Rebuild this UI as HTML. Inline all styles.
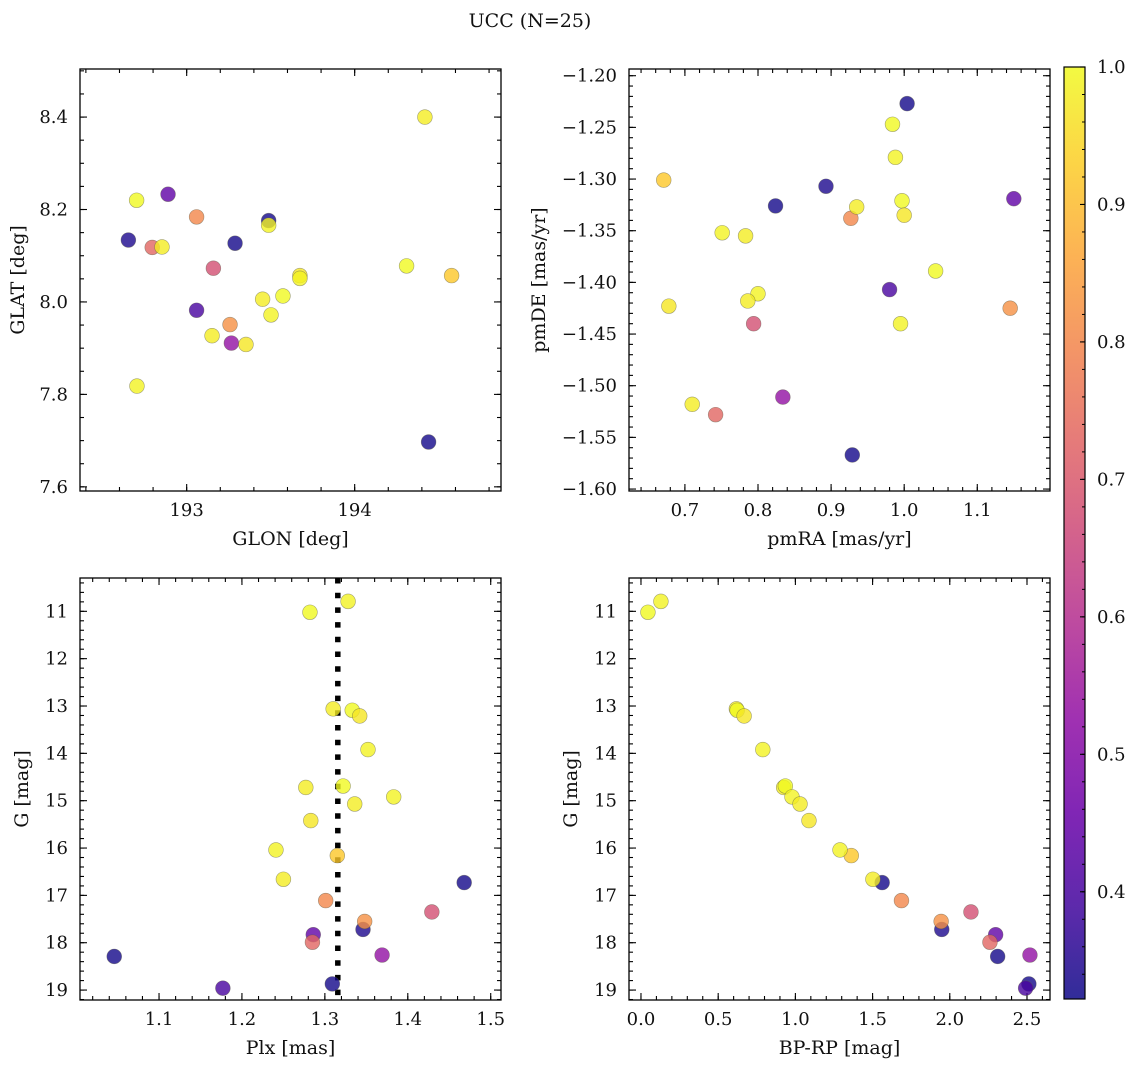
<!DOCTYPE html>
<html><head><meta charset="utf-8"><style>
html,body{margin:0;padding:0;background:#fff;}
svg text{font-family:"DejaVu Serif","Liberation Serif",serif;fill:#111;}
</style></head><body>
<svg id="fig" width="1136" height="1067" viewBox="0 0 1136 1067" xmlns="http://www.w3.org/2000/svg">
<defs><linearGradient id="plasmaGrad" x1="0" y1="1" x2="0" y2="0"></linearGradient></defs>
<text x="530" y="27" font-size="19" text-anchor="middle">UCC (N=25)</text>
</svg>
<script>
// star data (25 members)
const glon = [193.488,192.653,193.288,194.440,193.059,192.889,193.266,193.159,192.795,193.059,193.258,194.577,192.702,193.488,192.853,194.309,193.674,193.674,193.452,193.573,193.502,193.151,193.353,192.704,194.418];
const glat = [8.176,8.134,8.127,7.697,7.982,8.233,7.911,8.073,8.118,8.184,7.951,8.057,8.220,8.166,8.119,8.078,8.057,8.051,8.006,8.013,7.972,7.927,7.908,7.818,8.400];
const pmra = [1.004,0.893,0.824,0.929,0.980,1.150,0.834,0.794,0.742,0.927,1.145,0.671,0.984,0.988,0.935,0.997,1.000,0.751,0.783,1.043,0.800,0.786,0.678,0.995,0.710];
const pmde = [-1.227,-1.307,-1.326,-1.567,-1.407,-1.319,-1.511,-1.440,-1.528,-1.338,-1.425,-1.301,-1.247,-1.279,-1.327,-1.321,-1.335,-1.352,-1.355,-1.389,-1.411,-1.418,-1.423,-1.440,-1.518];
const plx = [1.468,1.346,1.046,1.309,1.177,1.286,1.369,1.429,1.285,1.301,1.348,1.315,1.282,1.328,1.310,1.333,1.342,1.352,1.277,1.322,1.383,1.336,1.283,1.241,1.250];
const gmag = [16.73,17.72,18.29,18.87,18.96,17.83,18.26,17.35,17.99,17.11,17.55,16.16,11.02,10.79,13.06,13.09,13.21,13.92,14.72,14.69,14.92,15.07,15.42,16.04,16.66];
const bprp = [1.562,1.948,2.310,2.512,2.491,2.297,2.519,2.137,2.260,1.687,1.944,1.362,0.045,0.129,0.618,0.623,0.668,0.789,0.924,0.935,0.978,1.030,1.088,1.289,1.502];
const prob = [0.33,0.34,0.33,0.33,0.40,0.44,0.53,0.68,0.73,0.80,0.82,0.92,1.0,0.99,0.98,1.0,0.97,0.99,0.98,1.0,0.99,0.98,0.97,0.99,0.98];
const plxMean = [1.3156];
const cbarTicks = [0.4,0.5,0.6,0.7,0.8,0.9,1.0];

const NS='http://www.w3.org/2000/svg';
const svg=document.getElementById('fig');
function mk(tag,attrs,parent){const e=document.createElementNS(NS,tag);for(const k in attrs)e.setAttribute(k,attrs[k]);(parent||svg).appendChild(e);return e;}
const PL=[[0,[13,8,135]],[0.1,[65,4,157]],[0.2,[106,0,168]],[0.3,[143,13,164]],[0.4,[177,42,144]],[0.5,[204,71,120]],[0.6,[225,100,98]],[0.7,[242,132,75]],[0.8,[252,166,54]],[0.9,[252,206,37]],[1,[240,249,33]]];
function plasma(t){t=Math.max(0,Math.min(1,t));for(let i=1;i<PL.length;i++){if(t<=PL[i][0]){const a=PL[i-1],b=PL[i];const f=(t-a[0])/(b[0]-a[0]);const c=a[1].map((v,j)=>Math.round(v+(b[1][j]-v)*f));return 'rgb('+c.join(',')+')';}}return 'rgb(240,249,33)';}
const VMIN=0.322,VMAX=1.0;
function cmap(v){return plasma((v-VMIN)/(VMAX-VMIN));}

function panel(o){
  const g=mk('g',{});
  
  
  const sx=v=>o.x0+(v-o.xmin)/(o.xmax-o.xmin)*o.w;
  const sy=o.inv?(v=>o.y0+(v-o.ymin)/(o.ymax-o.ymin)*o.h):(v=>o.y0+o.h-(v-o.ymin)/(o.ymax-o.ymin)*o.h);
  const eps=1e-9;
  function ticksX(step,len,labels){
    const s=Math.ceil(o.xmin/step-eps);
    for(let k=s;k*step<=o.xmax+eps;k++){const v=k*step;const X=sx(v);
      mk('line',{x1:X,y1:o.y0+o.h,x2:X,y2:o.y0+o.h-len,stroke:'#000','stroke-width':1.1},g);
      mk('line',{x1:X,y1:o.y0,x2:X,y2:o.y0+len,stroke:'#000','stroke-width':1.1},g);
      if(labels){const t=mk('text',{x:X,y:o.y0+o.h+25,'font-size':18,'text-anchor':'middle'},g);t.textContent=v.toFixed(o.xdec);
        
        }
    }
  }
  function ticksY(step,len,labels){
    const s=Math.ceil(o.ymin/step-eps);
    for(let k=s;k*step<=o.ymax+eps;k++){const v=k*step;const Y=sy(v);
      mk('line',{x1:o.x0,y1:Y,x2:o.x0+len,y2:Y,stroke:'#000','stroke-width':1.1},g);
      mk('line',{x1:o.x0+o.w,y1:Y,x2:o.x0+o.w-len,y2:Y,stroke:'#000','stroke-width':1.1},g);
      if(labels){let s2=v.toFixed(o.ydec);if(s2.startsWith('-'))s2='\u2212'+s2.slice(1);
        const t=mk('text',{x:o.x0-12,y:Y+6,'font-size':18,'text-anchor':'end'},g);t.textContent=s2;
        
        }
    }
  }
  ticksX(o.xminor,4,false);ticksX(o.xmajor,7,true);
  ticksY(o.yminor,4,false);ticksY(o.ymajor,7,true);
  if(o.vline){o.vline.forEach(v=>{const l=mk('line',{x1:sx(v),y1:o.y0,x2:sx(v),y2:o.y0+o.h,stroke:'#000','stroke-width':5.5,'stroke-dasharray':'5.5 9.2'},g);
    
    });}
  for(let i=0;i<o.xs.length;i++){
    const c=mk('circle',{cx:sx(o.xs[i]),cy:sy(o.ys[i]),r:7.4,fill:cmap(prob[i]),'fill-opacity':0.8,stroke:'rgba(90,90,70,0.55)','stroke-width':0.6},g);
    
    
  }
  const fr=mk('rect',{x:o.x0,y:o.y0,width:o.w,height:o.h,fill:'none',stroke:'#000','stroke-width':1.3},g);
  
  
  const xl=mk('text',{x:o.x0+o.w/2,y:o.y0+o.h+54,'font-size':19,'text-anchor':'middle'},g);xl.textContent=o.xlabel;
  
  
  const yx=o.ylx, yc=o.y0+o.h/2;
  const yl=mk('text',{x:yx,y:yc,'font-size':19,'text-anchor':'middle',transform:'rotate(-90 '+yx+' '+yc+')'},g);yl.textContent=o.ylabel;
  
  
}

panel({name:'glon-glat-panel',x0:80,y0:69,w:421,h:422,xmin:192.365,xmax:194.871,ymin:7.591,ymax:8.504,xmajor:1,xminor:0.2,ymajor:0.2,yminor:0.05,xdec:0,ydec:1,xs:glon,ys:glat,xlabel:'GLON [deg]',ylabel:'GLAT [deg]',ylx:24});
panel({name:'pm-panel',x0:629,y0:69,w:421,h:422,xmin:0.6235,xmax:1.1995,ymin:-1.6019,ymax:-1.1935,xmajor:0.1,xminor:0.02,ymajor:0.05,yminor:0.01,xdec:1,ydec:2,xs:pmra,ys:pmde,xlabel:'pmRA [mas/yr]',ylabel:'pmDE [mas/yr]',ylx:545});
panel({name:'plx-g-panel',x0:80,y0:578,w:421,h:422,xmin:1.0047,xmax:1.5124,ymin:10.296,ymax:19.21,inv:true,xmajor:0.1,xminor:0.02,ymajor:1,yminor:0.2,xdec:1,ydec:0,xs:plx,ys:gmag,xlabel:'Plx [mas]',ylabel:'G [mag]',ylx:28,vline:plxMean});
panel({name:'cmd-panel',x0:629,y0:578,w:421,h:422,xmin:-0.0776,xmax:2.649,ymin:10.296,ymax:19.21,inv:true,xmajor:0.5,xminor:0.1,ymajor:1,yminor:0.2,xdec:1,ydec:0,xs:bprp,ys:gmag,xlabel:'BP-RP [mag]',ylabel:'G [mag]',ylx:577});

// colorbar
const grad=document.getElementById('plasmaGrad');
for(let i=0;i<=20;i++){mk('stop',{offset:(i/20),'stop-color':plasma(i/20)},grad);}
const cb=mk('g',{});


const cx0=1064,cy0=67,cw=21,ch=932;
mk('rect',{x:cx0,y:cy0,width:cw,height:ch,fill:'url(#plasmaGrad)','fill-opacity':0.85,stroke:'#000','stroke-width':1.2},cb);
const cby=v=>cy0+ch-(v-VMIN)/(VMAX-VMIN)*ch;
for(let k=17;k<=50;k++){const v=k*0.02;if(v<VMIN)continue;mk('line',{x1:cx0+cw,y1:cby(v),x2:cx0+cw-3,y2:cby(v),stroke:'#000','stroke-width':1},cb);}
cbarTicks.forEach(v=>{const Y=cby(v);mk('line',{x1:cx0+cw,y1:Y,x2:cx0+cw-5,y2:Y,stroke:'#000','stroke-width':1.1},cb);
  const t=mk('text',{x:cx0+cw+12,y:Y+6,'font-size':18},cb);t.textContent=v.toFixed(1);
  
  });
</script>
</body></html>
